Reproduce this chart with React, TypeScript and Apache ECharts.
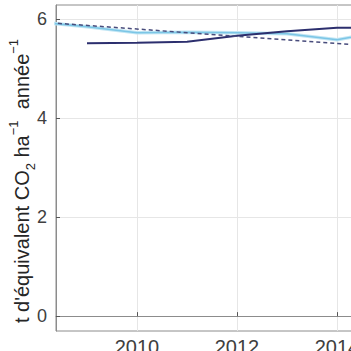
import React, { useEffect, useRef } from "react";
import * as echarts from "echarts";

const years = [2008, 2009, 2010, 2011, 2012, 2013, 2014, 2015];
const navyValues: (number | null)[] = [null, 5.51, 5.52, 5.54, 5.66, 5.75, 5.82, 5.83];
const lightBlueValues = [5.94, 5.84, 5.72, 5.73, 5.72, 5.7, 5.58, 5.75];
const trendYears = [2008, 2016];
const trendValues = [5.94, 5.36];
const xTicks = [2010, 2012, 2014, 2016];
const yTicks = [0, 2, 4, 6];

const pair = (xs: number[], ys: (number | null)[]) =>
  xs.map((x, i) => [x, ys[i]]).filter((p) => p[1] !== null);

export default function App() {
  const ref = useRef<HTMLDivElement>(null);
  useEffect(() => {
    if (!ref.current) return;
    const chart = echarts.init(ref.current, null, { renderer: "svg" });
    const font = "Liberation Sans";
    chart.setOption({
      animation: false,
      backgroundColor: "#ffffff",
      grid: {
        left: 56,
        top: 5,
        width: 381,
        height: 326,
        show: true,
        borderColor: "#8c8c8c",
        borderWidth: 1,
        containLabel: false,
        outerBoundsMode: "none",
      },
      xAxis: {
        type: "value",
        min: 2008.38,
        max: 2016,
        axisLine: { show: true, lineStyle: { color: "#8c8c8c" } },
        axisTick: { show: true, inside: true, length: 4, customValues: xTicks, lineStyle: { color: "#555" } },
        axisLabel: {
          customValues: xTicks,
          fontFamily: font,
          fontSize: 20,
          color: "#404040",
          margin: 6,
          formatter: (v: number) => String(v),
        },
        splitLine: { show: true, lineStyle: { color: "#e6e6e6", width: 1 } },
      },
      yAxis: {
        type: "value",
        min: -0.3,
        max: 6.28,
        axisLine: { show: true, lineStyle: { color: "#8c8c8c" } },
        axisTick: { show: true, inside: true, length: 4, customValues: yTicks, lineStyle: { color: "#555" } },
        axisLabel: {
          customValues: yTicks,
          fontFamily: font,
          fontSize: 18,
          color: "#404040",
          margin: 9,
        },
        splitLine: { show: true, lineStyle: { color: "#e6e6e6", width: 1 } },
      },
      graphic: [
        {
          type: "text",
          x: 22,
          y: 181,
          rotation: Math.PI / 2,
          style: {
            text: "{a|t d'équivalent CO}{s|2}{a| ha}{p|−1}{a|  année}{p|−1}",
            align: "center",
            verticalAlign: "middle",
            fill: "#262626",
            rich: {
              a: { fontFamily: font, fontSize: 20, fill: "#262626", lineHeight: 30 },
              s: { fontFamily: font, fontSize: 13, fill: "#262626", verticalAlign: "bottom", lineHeight: 30 },
              p: { fontFamily: font, fontSize: 13, fill: "#262626", verticalAlign: "top", lineHeight: 30 },
            },
          },
        },
      ],
      series: [
        {
          type: "line",
          data: pair(years, lightBlueValues),
          showSymbol: false,
          lineStyle: { color: "#c2e6f4", width: 3.5 },
          z: 2,
        },
        {
          type: "line",
          data: pair(years, lightBlueValues),
          showSymbol: false,
          lineStyle: { color: "#7cc6e6", width: 1.5 },
          z: 3,
        },
        {
          type: "line",
          data: pair(years, navyValues),
          showSymbol: false,
          lineStyle: { color: "#2c2f6e", width: 2 },
          z: 4,
        },
        {
          type: "line",
          data: pair(trendYears, trendValues),
          showSymbol: false,
          lineStyle: { color: "#484c7c", width: 1.5, type: [4, 3] },
          z: 5,
        },
      ],
    });
    return () => chart.dispose();
  }, []);
  return (
    <div style={{ position: "fixed", left: 0, top: 0, width: 351, height: 351, overflow: "hidden" }}>
      <div ref={ref} style={{ width: 351, height: 351 }} />
    </div>
  );
}
